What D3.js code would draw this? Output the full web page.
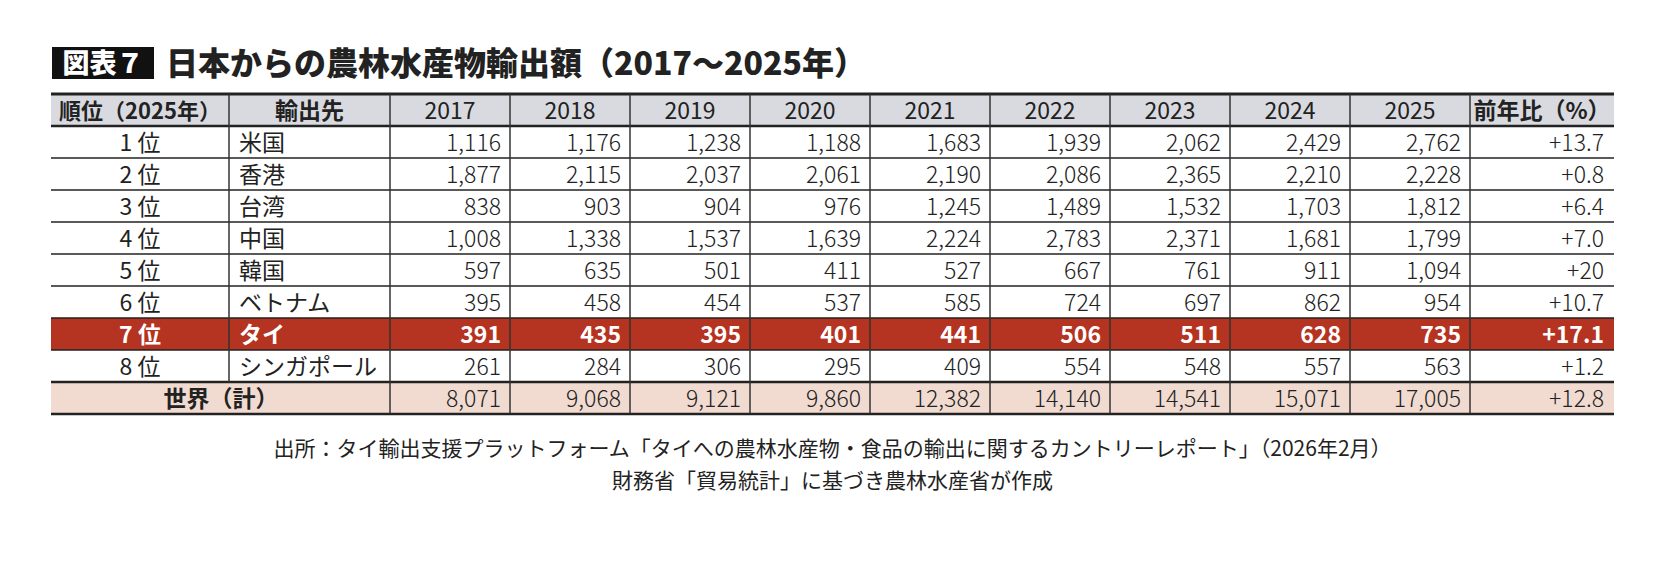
<!DOCTYPE html>
<html><head><meta charset="utf-8">
<script src="https://cdn.jsdelivr.net/npm/d3@7"></script>
<style>body{margin:0;background:#fff;font-family:"Noto Sans CJK JP",sans-serif;}</style>
</head><body>
<svg id="chart" width="1667" height="581"></svg>
<script>
var years = ['2017','2018','2019','2020','2021','2022','2023','2024','2025'];
var ranks = ['1 位','2 位','3 位','4 位','5 位','6 位','7 位','8 位'];
var countries = ['米国','香港','台湾','中国','韓国','ベトナム','タイ','シンガポール'];
var values = [
  [1116,1176,1238,1188,1683,1939,2062,2429,2762],
  [1877,2115,2037,2061,2190,2086,2365,2210,2228],
  [838,903,904,976,1245,1489,1532,1703,1812],
  [1008,1338,1537,1639,2224,2783,2371,1681,1799],
  [597,635,501,411,527,667,761,911,1094],
  [395,458,454,537,585,724,697,862,954],
  [391,435,395,401,441,506,511,628,735],
  [261,284,306,295,409,554,548,557,563]
];
var ratios = ['+13.7','+0.8','+6.4','+7.0','+20','+10.7','+17.1','+1.2'];
var world = [8071,9068,9121,9860,12382,14140,14541,15071,17005];
var worldRatio = '+12.8';
var highlight = 6;

var svg = d3.select('#chart');
var fmt = d3.format(',');
var tLeft = 51, tRight = 1614, tTop = 94, headH = 32, rowH = 32;
var colX = [51, 229, 390];
years.forEach(function (yr, i) { colX.push(390 + 120 * (i + 1)); });
colX.push(tRight);
var nRows = ranks.length + 1;
var y = d3.scaleLinear().domain([0, nRows]).range([tTop + headH, tTop + headH + rowH * nRows]);
var tBottom = y(nRows);

// title
svg.append('rect').attr('x', 52).attr('y', 47).attr('width', 102).attr('height', 32).attr('fill', '#111');
svg.append('text').attr('x', 103).attr('y', 73).attr('text-anchor', 'middle').attr('fill', '#fff')
  .attr('font-size', 27).attr('font-weight', 900).text('図表７');
svg.append('text').attr('x', 166).attr('y', 75).attr('fill', '#222')
  .attr('font-size', 32).attr('font-weight', 900).text('日本からの農林水産物輸出額（2017〜2025年）');

// backgrounds
svg.append('rect').attr('x', tLeft).attr('y', tTop).attr('width', tRight - tLeft).attr('height', headH).attr('fill', '#d9dadf');
svg.append('rect').attr('x', tLeft).attr('y', y(highlight)).attr('width', tRight - tLeft).attr('height', rowH).attr('fill', '#b53321');
svg.append('rect').attr('x', tLeft).attr('y', y(nRows - 1)).attr('width', tRight - tLeft).attr('height', rowH).attr('fill', '#f1dbd1');

// header texts
var headers = ['順位（2025年）', '輸出先'].concat(years).concat(['前年比（%）']);
headers.forEach(function (h, i) {
  var cx = (colX[i] + colX[i + 1]) / 2;
  var isYear = i >= 2 && i < 11;
  svg.append('text').attr('x', i === 0 ? colX[0] + 8 : cx).attr('y', tTop + 25)
    .attr('text-anchor', i === 0 ? 'start' : 'middle')
    .attr('font-size', i === 0 ? 22 : 23).attr('font-weight', isYear ? 400 : 700)
    .attr('fill', '#222').text(h);
});

// body rows
ranks.forEach(function (r, ri) {
  var hl = ri === highlight;
  var col = hl ? '#fff' : '#222';
  var w = hl ? 700 : 400;
  var by = y(ri) + 25;
  svg.append('text').attr('x', (colX[0] + colX[1]) / 2).attr('y', by).attr('text-anchor', 'middle')
    .attr('font-size', 23).attr('font-weight', w).attr('fill', col).text(r);
  svg.append('text').attr('x', colX[1] + 10).attr('y', by)
    .attr('font-size', 23).attr('font-weight', w).attr('fill', col).text(countries[ri]);
  values[ri].forEach(function (v, vi) {
    svg.append('text').attr('x', colX[vi + 3] - 9).attr('y', by).attr('text-anchor', 'end')
      .attr('font-size', 23).attr('font-weight', hl ? 700 : 300).attr('fill', col).text(fmt(v));
  });
  svg.append('text').attr('x', tRight - 10).attr('y', by).attr('text-anchor', 'end')
    .attr('font-size', 23).attr('font-weight', hl ? 700 : 300).attr('fill', col).text(ratios[ri]);
});

// world row
var wy = y(nRows - 1) + 25;
svg.append('text').attr('x', colX[2] / 2 + 26).attr('y', wy).attr('text-anchor', 'middle')
  .attr('font-size', 23).attr('font-weight', 700).attr('fill', '#222').text('世界（計）');
world.forEach(function (v, vi) {
  svg.append('text').attr('x', colX[vi + 3] - 9).attr('y', wy).attr('text-anchor', 'end')
    .attr('font-size', 23).attr('font-weight', 300).attr('fill', '#222').text(fmt(v));
});
svg.append('text').attr('x', tRight - 10).attr('y', wy).attr('text-anchor', 'end')
  .attr('font-size', 23).attr('font-weight', 300).attr('fill', '#222').text(worldRatio);

// horizontal lines
function hline(yy, sw) {
  svg.append('line').attr('x1', tLeft).attr('x2', tRight).attr('y1', yy).attr('y2', yy)
    .attr('stroke', '#222').attr('stroke-width', sw);
}
hline(tTop, 3);
for (var i = 0; i <= nRows; i++) hline(y(i), (i === 0 || i === nRows - 1 || i === nRows) ? 2.5 : 1.5);

// vertical lines
colX.slice(1, -1).forEach(function (x, i) {
  svg.append('line').attr('x1', x).attr('x2', x)
    .attr('y1', tTop).attr('y2', i === 0 ? y(nRows - 1) : tBottom)
    .attr('stroke', '#333').attr('stroke-width', 1.5);
});

// source
var midX = (tLeft + tRight) / 2;
svg.append('text').attr('x', midX).attr('y', 456).attr('text-anchor', 'middle')
  .attr('font-size', 21).attr('fill', '#222')
  .text('出所：タイ輸出支援プラットフォーム「タイへの農林水産物・食品の輸出に関するカントリーレポート」（2026年2月）');
svg.append('text').attr('x', midX).attr('y', 488).attr('text-anchor', 'middle')
  .attr('font-size', 21).attr('fill', '#222')
  .text('財務省「貿易統計」に基づき農林水産省が作成');
</script>
</body></html>
